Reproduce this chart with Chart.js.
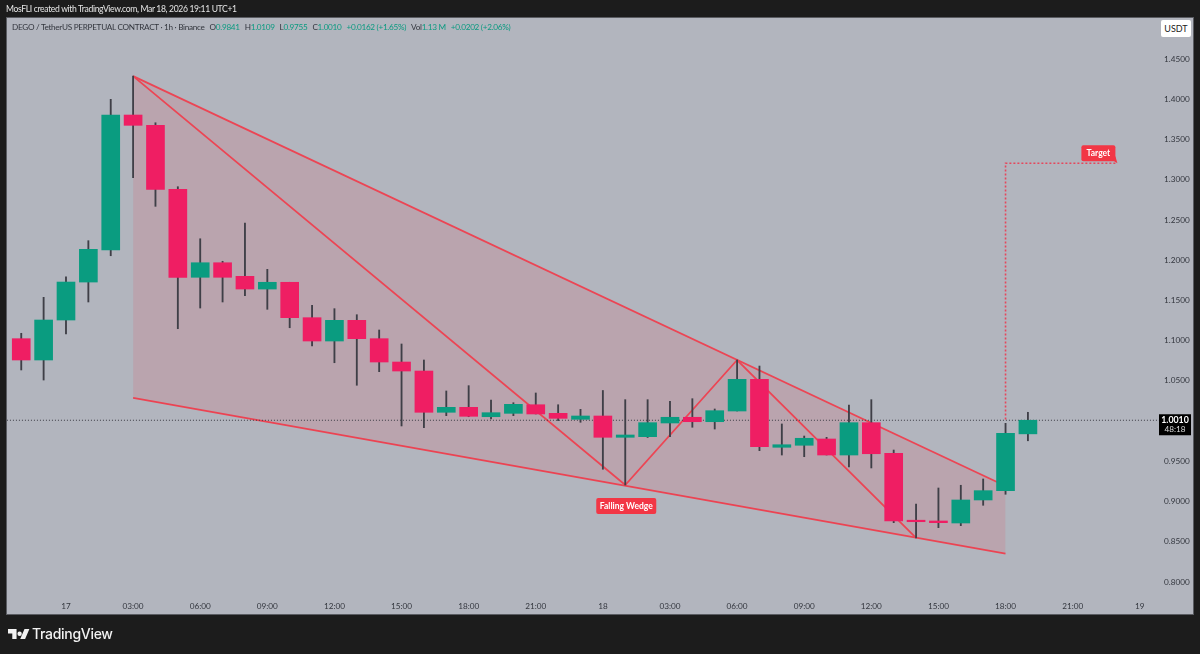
<!DOCTYPE html>
<html>
<head>
<meta charset="utf-8">
<title>DEGO / TetherUS 1h</title>
<script src="https://cdn.jsdelivr.net/npm/chart.js@4"></script>
<style>
html, body { margin: 0; padding: 0; width: 1200px; height: 654px; overflow: hidden; background: #1c1c1c; font-family: Lato, sans-serif; }
#panel { position: absolute; left: 6px; top: 17px; width: 1186px; height: 596px; background: #b2b5be; border: 1px solid #5a5c62; }
canvas { position: absolute; left: 0; top: 0; }
.txt { position: absolute; white-space: nowrap; }
#author { left: 6px; top: 2px; font-size: 8.6px; letter-spacing: -0.35px; line-height: 15px; color: #e6e6e6; }
#legend { left: 12px; top: 20px; font-size: 8.2px; letter-spacing: -0.3px; line-height: 15px; color: #33363e; }
#legend b { font-weight: 400; color: #0b9a80; }
#legend span { margin-left: 5px; }
#usdt { left: 1161px; top: 20px; width: 30px; height: 17px; line-height: 17px; text-align: center; background: #fff; border-radius: 2px; font-size: 9px; color: #222; }
#logo { left: 8px; top: 627px; }
#brand { left: 32px; top: 624px; font-family: Inter, sans-serif; font-size: 14px; line-height: 20px; font-weight: 500; color: #f2f2f2; letter-spacing: -0.3px; }
</style>
</head>
<body>
<div id="panel"></div>
<canvas id="chart" width="1200" height="654"></canvas>
<div class="txt" id="author">MosFLI created with TradingView.com, Mar 18, 2026 19:11 UTC+1</div>
<div class="txt" id="legend">DEGO / TetherUS PERPETUAL CONTRACT · 1h · Binance<span>O<b>0.9841</b></span><span>H<b>1.0109</b></span><span>L<b>0.9755</b></span><span>C<b>1.0010</b></span><span><b>+0.0162 (+1.65%)</b></span><span>Vol<b>1.13 M</b></span><span><b>+0.0202 (+2.06%)</b></span></div>
<div class="txt" id="usdt">USDT</div>
<svg class="txt" id="logo" width="22" height="14" viewBox="0 0 36 20"><path fill="#f2f2f2" d="M14 2H0v7h7v9h7zM28 18h-8l7-16h8zM19 6a3.6 3.6 0 1 1 0 7.2A3.6 3.6 0 0 1 19 6z"/></svg>
<div class="txt" id="brand">TradingView</div>
<script>
// hours counted from 17 Mar 00:00
const hours = [-2,-1,0,1,2,3,4,5,6,7,8,9,10,11,12,13,14,15,16,17,18,19,20,21,22,23,24,25,26,27,28,29,30,31,32,33,34,35,36,37,38,39,40,41,42,43];
const opens = [1.1024,1.0759,1.1256,1.1728,1.2126,1.3804,1.3676,1.2880,1.1787,1.1968,1.1799,1.1641,1.1725,1.1285,1.0995,1.1252,1.1024,1.0734,1.0622,1.0109,1.0171,1.0054,1.0096,1.0203,1.0096,1.0022,1.0063,0.9798,0.9806,0.9976,1.0047,0.9992,1.0125,1.0519,0.9674,0.9699,0.9777,0.9578,0.9980,0.9599,0.8767,0.8758,0.8733,0.9019,0.9135,0.9841];
const highs = [1.1091,1.1538,1.1794,1.2242,1.3999,1.4288,1.3708,1.2913,1.2266,1.1986,1.2462,1.1886,1.1725,1.1439,1.1397,1.1322,1.1132,1.0958,1.0759,1.0374,1.0440,1.0262,1.0228,1.0349,1.0203,1.0146,1.0380,1.0266,1.0266,1.0246,1.0278,1.0150,1.0759,1.0684,0.9964,0.9814,0.9798,1.0200,1.0266,0.9640,0.8969,0.9168,0.9202,0.9280,0.9972,1.0109];
const lows = [1.0635,1.0510,1.1082,1.1480,1.2055,1.3025,1.2669,1.1148,1.1405,1.1480,1.1558,1.1389,1.1160,1.0933,1.0725,1.0445,1.0614,0.9939,0.9918,1.0067,1.0054,1.0026,1.0067,1.0088,1.0005,0.9985,0.9401,0.9205,0.9796,0.9806,0.9923,0.9901,1.0125,0.9632,0.9578,0.9557,0.9578,0.9429,0.9417,0.8737,0.8547,0.8675,0.8700,0.8953,0.9090,0.9755];
const closes = [1.0759,1.1256,1.1728,1.2135,1.3804,1.3676,1.2880,1.1787,1.1968,1.1787,1.1641,1.1725,1.1285,1.0995,1.1252,1.1024,1.0734,1.0622,1.0109,1.0171,1.0059,1.0104,1.0208,1.0088,1.0034,1.0063,0.9798,0.9827,0.9980,1.0047,0.9992,1.0129,1.0519,0.9681,0.9706,0.9786,0.9578,0.9980,0.9594,0.8758,0.8749,0.8737,0.9019,0.9135,0.9848,1.0010];

const tickHours = [0,3,6,9,12,15,18,21,24,27,30,33,36,39,42,45,48];
const tickLabels = ['17','03:00','06:00','09:00','12:00','15:00','18:00','21:00','18','03:00','06:00','09:00','12:00','15:00','18:00','21:00','19'];
const priceTicks = [1.45,1.40,1.35,1.30,1.25,1.20,1.15,1.10,1.05,1.00,0.95,0.90,0.85,0.80];

// drawings
const wedgeUpper = [{x:3,y:1.4288},{x:42,y:0.9193}];
const wedgeLower = [{x:3,y:1.0287},{x:42,y:0.8353}];
const zigzag = [{x:3,y:1.4288},{x:25,y:0.9205},{x:30,y:1.0759},{x:38,y:0.8547}];
const targetPath = [{x:42,y:1.0020},{x:42,y:1.3204},{x:47,y:1.3204}];
const lastPrice = 1.0010;
const countdown = '48:18';

const green = '#0a9c80';
const red = '#ef1e63';
const lineRed = '#ec4554';
const wickColor = '#3f3f47';
const axisFont = 'Lato';

const bodies = hours.map((h, i) => ({ x: h, y: [opens[i], closes[i]] }));
const wicks = hours.map((h, i) => ({ x: h, y: [lows[i], highs[i]] }));
const bodyColors = hours.map((h, i) => closes[i] >= opens[i] ? green : red);

// callout boxes and the price tag on the axis
const overlay = {
    id: 'overlay',
    afterDatasetsDraw(chart) {
        const ctx = chart.ctx;
        const xs = chart.scales.x;
        const ys = chart.scales.y;

        ctx.save();
        ctx.textAlign = 'center';
        ctx.textBaseline = 'middle';

        // Falling Wedge
        const wx = xs.getPixelForValue(25);
        const wy = ys.getPixelForValue(0.9205);
        ctx.fillStyle = '#f23645';
        ctx.beginPath();
        ctx.roundRect(wx - 29, wy + 13, 60, 16, 2);
        ctx.fill();
        ctx.fillStyle = '#fff';
        ctx.font = '700 8.5px Lato';
        ctx.fillText('Falling Wedge', wx + 1, wy + 21);

        // Target
        const tx = xs.getPixelForValue(47);
        const ty = ys.getPixelForValue(1.3204);
        ctx.fillStyle = '#f23645';
        ctx.beginPath();
        ctx.roundRect(tx - 36, ty - 18, 34, 16, 2);
        ctx.fill();
        ctx.beginPath();
        ctx.moveTo(tx - 5, ty - 3);
        ctx.lineTo(tx, ty);
        ctx.lineTo(tx - 2, ty - 7);
        ctx.fill();
        ctx.fillStyle = '#fff';
        ctx.fillText('Target', tx - 19, ty - 10);

        // current price
        const py = ys.getPixelForValue(lastPrice);
        ctx.fillStyle = '#000';
        ctx.fillRect(1159, py - 6, 32, 21);
        ctx.fillStyle = '#fff';
        ctx.font = '700 8.8px ' + axisFont;
        ctx.fillText(lastPrice.toFixed(4), 1175, py);
        ctx.font = '8.2px ' + axisFont;
        ctx.fillStyle = '#ddd';
        ctx.fillText(countdown, 1175, py + 9.5);
        ctx.restore();
    }
};

const ctx = document.getElementById('chart').getContext('2d');
ctx.letterSpacing = '-0.3px'; // labels in the picture run tight

new Chart(ctx, {
    type: 'bar',
    data: {
        datasets: [
            { label: 'body', data: bodies, backgroundColor: bodyColors, barThickness: 18, grouped: false, order: 1, minBarLength: 1.5 },
            { label: 'wick', data: wicks, backgroundColor: wickColor, barThickness: 1.2, grouped: false, order: 2 },
            { type: 'line', label: 'wedge upper', data: wedgeUpper, borderColor: lineRed, borderWidth: 1.8, pointRadius: 0, fill: '+1', backgroundColor: 'rgba(240,54,69,0.13)', order: 5 },
            { type: 'line', label: 'wedge lower', data: wedgeLower, borderColor: lineRed, borderWidth: 1.8, pointRadius: 0, fill: false, order: 5 },
            { type: 'line', label: 'zigzag', data: zigzag, borderColor: lineRed, borderWidth: 1.8, pointRadius: 0, fill: false, order: 4 },
            { type: 'line', label: 'target', data: targetPath, borderColor: '#e5475c', borderWidth: 1.6, borderDash: [2, 2], pointRadius: 0, fill: false, order: 3 },
            { type: 'line', label: 'last', data: [{x:-2.64,y:lastPrice},{x:48.86,y:lastPrice}], borderColor: '#3c3c44', borderWidth: 1, borderDash: [1, 2], pointRadius: 0, fill: false, order: 3 }
        ]
    },
    plugins: [overlay],
    options: {
        responsive: false,
        animation: false,
        layout: { padding: { left: 7, top: 18, right: 7, bottom: 40 } },
        plugins: { legend: { display: false }, tooltip: { enabled: false } },
        scales: {
            x: {
                type: 'linear',
                offset: false,
                min: -2.637,
                max: 48.86,
                grid: { display: false, drawTicks: false },
                border: { display: false },
                afterBuildTicks: axis => { axis.ticks = tickHours.map(v => ({ value: v })); },
                afterFit: axis => { axis.height = 19; },
                ticks: {
                    autoSkip: false,
                    maxRotation: 0,
                    padding: 6,
                    color: '#33363e',
                    font: { family: axisFont, size: 8.2 },
                    callback: v => tickLabels[tickHours.indexOf(v)]
                }
            },
            y: {
                position: 'right',
                min: 0.7838,
                max: 1.5010,
                grid: { display: false, drawTicks: false },
                border: { display: false },
                afterBuildTicks: axis => { axis.ticks = priceTicks.map(v => ({ value: v })); },
                afterFit: axis => { axis.width = 34; },
                ticks: {
                    autoSkip: false,
                    padding: 5,
                    color: '#33363e',
                    font: { family: axisFont, size: 8.2 },
                    callback: v => v.toFixed(4)
                }
            }
        }
    }
});
</script>
</body>
</html>
